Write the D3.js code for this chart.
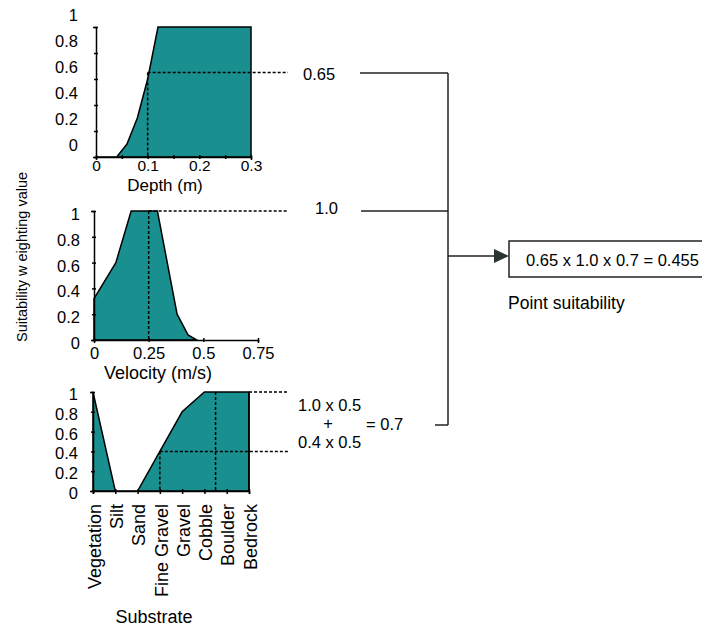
<!DOCTYPE html>
<html>
<head>
<meta charset="utf-8">
<script src="https://cdn.jsdelivr.net/npm/d3@7"></script>
<style>
  body { margin: 0; background: #fff; }
  svg { font-family: "Liberation Sans", Arial, sans-serif; }
  .tick line, .domain { stroke: #000; }
</style>
</head>
<body>
<div id="chart"></div>
<script>
// suitability curves
var depthX = [0, 0.04, 0.06, 0.08, 0.1, 0.12, 0.3];
var depthY = [0, 0, 0.1, 0.3, 0.6, 1, 1];
var depthTicks = [0, 0.1, 0.2, 0.3];

var velocityX = [0, 0.1, 0.17, 0.29, 0.38, 0.43, 0.47];
var velocityY = [0.32, 0.6, 1, 1, 0.2, 0.04, 0];
var velocityTicks = [0, 0.25, 0.5, 0.75];

var substrates = ["Vegetation", "Silt", "Sand", "Fine Gravel", "Gravel", "Cobble", "Boulder", "Bedrock"];
var substrateY = [1, 0, 0, 0.4, 0.8, 1, 1, 1];

var yTicks = [0, 0.2, 0.4, 0.6, 0.8, 1];

var fillColor = "#1a8f8f";
var tickFont = 16.5;
var titleFont = 18;

var svg = d3.select("#chart")
  .append("svg")
  .attr("width", 702)
  .attr("height", 628);

function dashed(g, x1, y1, x2, y2) {
  g.append("line")
    .attr("x1", x1).attr("y1", y1).attr("x2", x2).attr("y2", y2)
    .attr("stroke", "#000")
    .attr("stroke-width", 1.5)
    .attr("stroke-dasharray", "3,2");
}

function yAxis(scale, xPos, labelX, labelShift) {
  var g = svg.append("g")
    .attr("transform", "translate(" + xPos + ",0)")
    .call(d3.axisLeft(scale).tickValues(yTicks).tickSize(3).tickFormat(d3.format("")));
  g.selectAll("text")
    .attr("font-size", tickFont)
    .attr("x", labelX)
    .attr("dy", labelShift + 5.5);
  g.selectAll(".tick line").attr("x1", -2).attr("x2", 2).attr("stroke-width", 1.5);
  g.select(".domain").attr("stroke-width", 1.5);
  return g;
}

function title(x, y, txt, size) {
  svg.append("text")
    .attr("x", x).attr("y", y)
    .attr("text-anchor", "middle")
    .attr("font-size", size || titleFont)
    .text(txt);
}

// ---------------- Depth panel ----------------
var xDepth = d3.scaleLinear().domain([0, 0.3]).range([96, 251]);
var yDepth = d3.scaleLinear().domain([0, 1]).range([157, 27]);

var depthData = depthX.map(function(d, i) { return [d, depthY[i]]; });
svg.append("path")
  .datum(depthData)
  .attr("fill", fillColor)
  .attr("stroke", "#000")
  .attr("stroke-width", 1.5)
  .attr("d", d3.area().x(d => xDepth(d[0])).y0(yDepth(0)).y1(d => yDepth(d[1])));

dashed(svg, xDepth(0.1), yDepth(0.65), xDepth(0.1), yDepth(0));
dashed(svg, xDepth(0.1), yDepth(0.65), 288, yDepth(0.65));

var gDx = svg.append("g")
  .attr("transform", "translate(0," + yDepth(0) + ")")
  .call(d3.axisBottom(xDepth).tickValues(d3.range(0, 0.31, 0.05)).tickSize(3)
    .tickFormat(d => depthTicks.some(t => Math.abs(t - d) < 1e-6) ? d3.format("")(+d.toFixed(2)) : ""));
gDx.selectAll("text").attr("font-size", 15.5).attr("y", 3).attr("dy", "0.71em");
gDx.selectAll(".tick line").attr("y1", -2).attr("y2", 2).attr("stroke-width", 1.5);
gDx.select(".domain").attr("stroke-width", 1.5);
yAxis(yDepth, 96, -18, -12);

title(165, 191, "Depth (m)", 17);

// ---------------- Velocity panel ----------------
var xVel = d3.scaleLinear().domain([0, 0.75]).range([94, 258]);
var yVel = d3.scaleLinear().domain([0, 1]).range([340, 211]);

var velData = velocityX.map(function(d, i) { return [d, velocityY[i]]; });
svg.append("path")
  .datum(velData)
  .attr("fill", fillColor)
  .attr("stroke", "#000")
  .attr("stroke-width", 1.5)
  .attr("d", d3.area().x(d => xVel(d[0])).y0(yVel(0)).y1(d => yVel(d[1])));

dashed(svg, xVel(0.25), yVel(1), xVel(0.25), yVel(0));
dashed(svg, xVel(0.25), yVel(1), 288, yVel(1));

var gVx = svg.append("g")
  .attr("transform", "translate(0," + yVel(0) + ")")
  .call(d3.axisBottom(xVel).tickValues(velocityTicks).tickSize(3).tickFormat(d3.format("")));
gVx.selectAll("text").attr("font-size", tickFont).attr("y", 7).attr("dy", "0.71em");
gVx.selectAll(".tick line").attr("y1", -2).attr("y2", 2).attr("stroke-width", 1.5);
gVx.select(".domain").attr("stroke-width", 1.5);
yAxis(yVel, 94, -14, 3);

title(158, 379, "Velocity (m/s)");

// ---------------- Substrate panel ----------------
var xSub = d3.scalePoint().domain(substrates).range([93, 249]);
var ySub = d3.scaleLinear().domain([0, 1]).range([491, 392]);

var subData = substrates.map(function(d, i) { return [d, substrateY[i]]; });
svg.append("path")
  .datum(subData)
  .attr("fill", fillColor)
  .attr("stroke", "#000")
  .attr("stroke-width", 1.5)
  .attr("d", d3.area().x(d => xSub(d[0])).y0(ySub(0)).y1(d => ySub(d[1])));

// right edge of the substrate area
svg.append("line")
  .attr("x1", xSub("Bedrock")).attr("x2", xSub("Bedrock"))
  .attr("y1", ySub(1)).attr("y2", ySub(0))
  .attr("stroke", "#000").attr("stroke-width", 1.5);

var midCB = (xSub("Cobble") + xSub("Boulder")) / 2;
dashed(svg, xSub("Fine Gravel"), ySub(0.4), xSub("Fine Gravel"), ySub(0));
dashed(svg, xSub("Fine Gravel"), ySub(0.4), 288, ySub(0.4));
dashed(svg, midCB, ySub(1), midCB, ySub(0));
dashed(svg, xSub("Bedrock"), ySub(1), 288, ySub(1));

var gSx = svg.append("g")
  .attr("transform", "translate(0," + ySub(0) + ")")
  .call(d3.axisBottom(xSub).tickSize(3));
gSx.selectAll("text")
  .attr("font-size", 18)
  .attr("transform", "rotate(-90)")
  .attr("text-anchor", "end")
  .attr("x", -13)
  .attr("y", 0)
  .attr("dy", "0.4em");
gSx.selectAll(".tick line").attr("y1", -2).attr("y2", 3).attr("stroke-width", 1.5);
gSx.select(".domain").attr("stroke-width", 1.5);
yAxis(ySub, 93, -15, 2);

title(154, 623, "Substrate");

// shared y label
svg.append("text")
  .attr("transform", "translate(27,257) rotate(-90)")
  .attr("text-anchor", "middle")
  .attr("font-size", 14.5)
  .text("Suitability w eighting value");

// ---------------- Combination diagram ----------------
var lineCol = "#222";
var annFont = 16.5;
svg.append("text").attr("x", 303).attr("y", 80).attr("font-size", annFont).text("0.65");
svg.append("text").attr("x", 315).attr("y", 214).attr("font-size", annFont).text("1.0");

svg.append("text").attr("x", 298).attr("y", 411).attr("font-size", annFont).text("1.0 x 0.5");
svg.append("text").attr("x", 328).attr("y", 429).attr("font-size", annFont).attr("text-anchor", "middle").text("+");
svg.append("text").attr("x", 298).attr("y", 448).attr("font-size", annFont).text("0.4 x 0.5");
svg.append("text").attr("x", 366).attr("y", 430).attr("font-size", annFont).text("= 0.7");

var conn = [
  [[360, 73], [448, 73]],
  [[361, 211], [448, 211]],
  [[435, 425], [448, 425]],
  [[448, 73], [448, 425]],
  [[448, 256], [496, 256]]
];
conn.forEach(function(c) {
  svg.append("line")
    .attr("x1", c[0][0]).attr("y1", c[0][1])
    .attr("x2", c[1][0]).attr("y2", c[1][1])
    .attr("stroke", lineCol).attr("stroke-width", 1.5);
});

svg.append("path")
  .attr("d", "M494,249 L509,256 L494,263 Z")
  .attr("fill", "#2b3535");

svg.append("rect")
  .attr("x", 509).attr("y", 241)
  .attr("width", 200).attr("height", 36)
  .attr("fill", "#fff")
  .attr("stroke", lineCol)
  .attr("stroke-width", 1.5);

svg.append("text")
  .attr("x", 526).attr("y", 266)
  .attr("font-size", 16.5)
  .text("0.65 x 1.0 x 0.7 = 0.455");

svg.append("text")
  .attr("x", 508).attr("y", 309)
  .attr("font-size", 17.5)
  .text("Point suitability");
</script>
</body>
</html>
